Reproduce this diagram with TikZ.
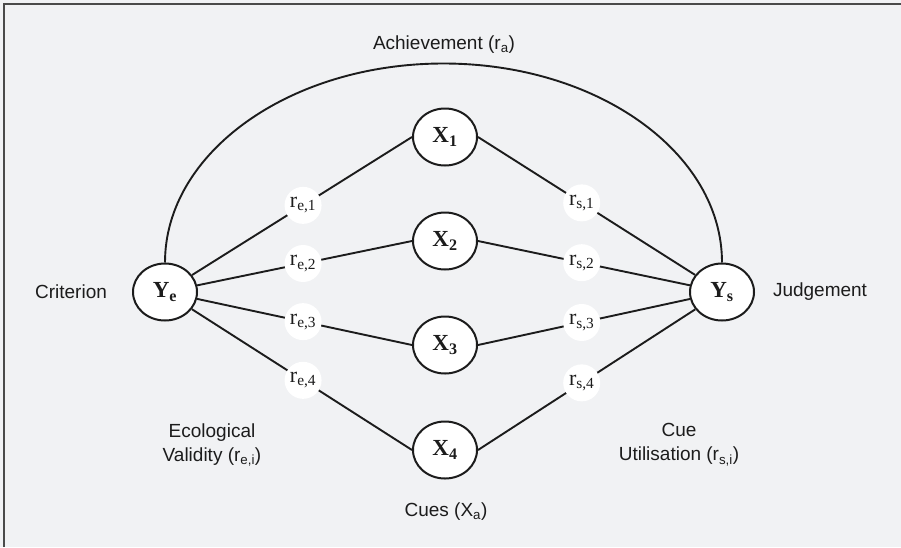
\documentclass[tikz,border=0pt]{standalone}
\usepackage{fontspec}
\setmainfont{Liberation Serif}
\newfontfamily\labelfont{Liberation Sans}
\usetikzlibrary{calc,shapes.geometric}

\definecolor{paper}{HTML}{F1F2F4}
\definecolor{ink}{HTML}{1C1C1C}
\definecolor{edge}{HTML}{4A4A4A}

\begin{document}
\begin{tikzpicture}[x=1pt,y=-1pt,
  var/.style={draw=ink, ellipse, line width=2pt, fill=white,
    minimum width=64pt, minimum height=57pt, inner sep=0pt,
    font=\fontsize{23}{26}\selectfont\bfseries, text=ink},
  coef/.style={circle, fill=white, minimum size=37pt, inner sep=0pt,
    font=\fontsize{22}{26}\selectfont, text=ink},
  caption/.style={font=\labelfont\fontsize{19}{24}\selectfont,
    text=ink, align=center},
  wire/.style={draw=ink, line width=1.9pt}]

% canvas and its frame
\fill[paper] (0,0) rectangle (901,547);
\useasboundingbox (0,0) rectangle (901,547);
\draw[edge, line width=2pt] (4,547) -- (4,4) -- (901,4);

% criterion, judgement and cue variables
\node[var] (Ye) at (165,292) {Y\textsubscript{e}};
\node[var] (Ys) at (722,292) {Y\textsubscript{s}};
\node[var] (X1) at (445,137) {X\textsubscript{1}};
\node[var] (X2) at (445,241) {X\textsubscript{2}};
\node[var] (X3) at (445,345) {X\textsubscript{3}};
\node[var] (X4) at (445,450) {X\textsubscript{4}};

% achievement arc
\draw[wire] (Ye.north) arc[start angle=180, end angle=0,
  x radius=278.5pt, y radius=199pt];

% links between criterion, cues and judgement
\foreach \i in {1,2,3,4} {
  \draw[wire] (Ye) -- (X\i.west);
  \draw[wire] (Ys) -- (X\i.east);
}

% correlation labels on the links
\foreach \i in {1,2,3,4} {
  \node[coef] (re\i) at ($(Ye.center)!0.559!(X\i.west)$) {r\textsubscript{e,\i}};
  \node[coef] (rs\i) at ($(Ys.center)!0.575!(X\i.east)$) {r\textsubscript{s,\i}};
}

% captions
\node[caption] (crit) at (71,292) {Criterion};
\node[caption] (judg) at (820,292) {Judgement};
\node[caption] (eco) at (212,445) {Ecological\\Validity (r\textsubscript{e,i})};
\node[caption] (util) at (679,445) {Cue\\Utilisation (r\textsubscript{s,i})};
\node[caption] (cues) at (446,512) {Cues (X\textsubscript{a})};
\node[caption] (ach) at (444,45) {Achievement (r\textsubscript{a})};
\end{tikzpicture}
\end{document}
